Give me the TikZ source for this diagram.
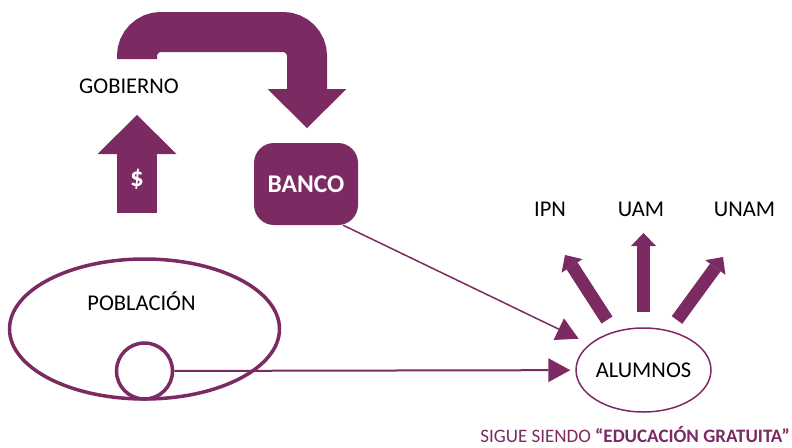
\documentclass[tikz,border=0pt]{standalone}
\usepackage{fontspec}
\setmainfont{Carlito}
\usepackage{tikz}
\usetikzlibrary{shapes,arrows.meta,positioning}
\definecolor{Morado}{HTML}{7B2A62}

\begin{document}
\begin{tikzpicture}[x=1pt,y=-1pt]
	\tikzstyle{Texto}	= [font=\fontsize{22.5}{27}\selectfont, inner sep=0pt]
	\tikzstyle{Bloque}	= [Morado, line width=40pt, -{Triangle[length=39pt,width=79pt,line width=0pt]}]
	\tikzstyle{Rayo}	= [Morado, line width=13pt, -{Triangle[length=13pt,width=25pt,line width=0pt]}]
	\tikzstyle{Flecha}	= [Morado, line width=1.5pt, -{Triangle[length=22pt,width=24pt,line width=0pt]}]
	\tikzstyle{Borde}	= [draw=Morado, ellipse, inner sep=0pt]

	\useasboundingbox (0,0) rectangle (792,447);

	\node (gob) at (129,93) [Texto, anchor=base] {GOBIERNO};

	\node (pob) at (144.5,329) [Borde, line width=3.5pt, minimum width=270pt, minimum height=140pt] {};
	\node (tpob) at (141.5,310) [Texto, anchor=base] {POBLACIÓN};
	\node (muestra) at (144.5,371) [Borde, circle, fill=white, line width=3.5pt, minimum size=56pt] {};

	\node (banco) at (306,184) [fill=Morado, rounded corners=20pt, minimum width=104pt, minimum height=82pt, text=white, font=\bfseries\fontsize{25.5}{30}\selectfont] {BANCO};

	\node (alumnos) at (643.5,370) [Borde, Texto, line width=1.5pt, minimum width=125pt, minimum height=84pt] {ALUMNOS};

	\node (ipn) at (550,216) [Texto, anchor=base] {IPN};
	\node (uam) at (641,216) [Texto, anchor=base] {UAM};
	\node (unam) at (744.5,216) [Texto, anchor=base] {UNAM};

	\node (lema) at (790,442) [anchor=base east, text=Morado, inner sep=0pt, font=\fontsize{19}{23}\selectfont] {SIGUE SIENDO \textbf{“EDUCACIÓN GRATUITA”}};

	\coordinate (subeA) at (137,213);
	\coordinate (subeB) at (137,115);
	\draw [Bloque] (subeA) -- (subeB);
	\node (pesos) at (137,179) [text=white, font=\bfseries\fontsize{27}{30}\selectfont, inner sep=0pt] {\$};

	\coordinate (giroA) at (137,59);
	\coordinate (giroB) at (137,32);
	\coordinate (giroC) at (307,32);
	\coordinate (giroD) at (307,128);
	\draw [Bloque, rounded corners=24pt] (giroA) -- (giroB) -- (giroC) -- (giroD);

	\draw [Flecha, shorten >=12pt] (banco.-48.7) -- (alumnos);
	\draw [Flecha, line width=2pt, shorten >=5pt] (muestra) -- (alumnos);

	\coordinate (r1a) at (607,320);
	\coordinate (r1b) at (565,255);
	\coordinate (r2a) at (643.5,312);
	\coordinate (r2b) at (643.5,233);
	\coordinate (r3a) at (677,320);
	\coordinate (r3b) at (723,257);
	\draw [Rayo] (r1a) -- (r1b);
	\draw [Rayo] (r2a) -- (r2b);
	\draw [Rayo] (r3a) -- (r3b);
\end{tikzpicture}
\end{document}
